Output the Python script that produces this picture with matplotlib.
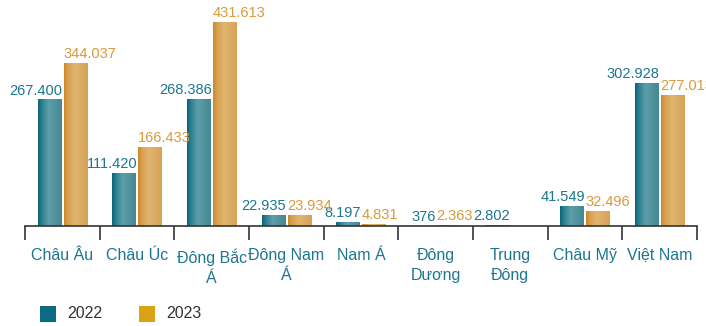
import numpy as np
import matplotlib.pyplot as plt
from matplotlib.colors import LinearSegmentedColormap
from matplotlib.patches import Rectangle

plt.rcParams['font.family'] = ['Liberation Sans', 'DejaVu Sans']

# Data
regions = ['Châu Âu', 'Châu Úc', 'Đông Bắc\nÁ', 'Đông Nam\nÁ', 'Nam Á',
           'Đông\nDương', 'Trung\nĐông', 'Châu Mỹ', 'Việt Nam']
val_2022 = [267.400, 111.420, 268.386, 22.935, 8.197, 0.376, 2.802, 41.549, 302.928]
val_2023 = [344.037, 166.433, 431.613, 23.934, 4.831, 2.363, None, 32.496, 277.013]
lab_2022 = ['267.400', '111.420', '268.386', '22.935', '8.197', '376', '2.802', '41.549', '302.928']
lab_2023 = ['344.037', '166.433', '431.613', '23.934', '4.831', '2.363', '', '32.496', '277.013']

teal_txt = '#1c7690'
gold_txt = '#d99a3c'
teal_cmap = LinearSegmentedColormap.from_list(
    'teal', [(0, '#0a6479'), (0.15, '#2a7f8f'), (0.45, '#5d9fa9'), (1, '#448895')])
gold_cmap = LinearSegmentedColormap.from_list(
    'gold', [(0, '#cb8a2a'), (0.15, '#d89f4f'), (0.45, '#dfb571'), (1, '#d7a255')])

fig = plt.figure(figsize=(7.06, 3.26), dpi=100)
ax = fig.add_axes([25 / 706, 100 / 326, 672 / 706, 221 / 326])

x = np.arange(len(regions))
width = 0.31
off = 0.175
grad = np.linspace(0, 1, 64).reshape(1, -1)


def shaded_bars(xs, vals, cmap):
    for xi, v in zip(xs, vals):
        if v is None:
            continue
        rect = Rectangle((xi - width / 2, 0), width, v, facecolor='none', edgecolor='none')
        ax.add_patch(rect)
        im = ax.imshow(grad, extent=[xi - width / 2, xi + width / 2, 0, v],
                       aspect='auto', cmap=cmap, zorder=2)
        im.set_clip_path(rect)


shaded_bars(x - off, val_2022, teal_cmap)
shaded_bars(x + off, val_2023, gold_cmap)

# value labels above the bars
for xi, v, s in zip(x, val_2022, lab_2022):
    ax.text(xi - off + width / 2 + 0.02, v + 4, s, ha='right', va='bottom',
            fontsize=10.5, color=teal_txt)
for xi, v, s in zip(x, val_2023, lab_2023):
    if v is None:
        continue
    ax.text(xi + off - width / 2 - 0.01, v + 4, s, ha='left', va='bottom',
            fontsize=10.5, color=gold_txt)

ax.set_xlim(-0.5, len(regions) - 0.5)
ax.set_ylim(0, 467)
ax.set_yticks([])
for side in ['top', 'right', 'left']:
    ax.spines[side].set_visible(False)
ax.spines['bottom'].set_color('#333333')
ax.spines['bottom'].set_linewidth(1.2)

# boundary ticks and category labels
ax.set_xticks(np.arange(len(regions) + 1) - 0.5)
ax.set_xticklabels([])
ax.tick_params(axis='x', which='major', direction='out', length=10, width=1.2, color='#333333')
ax.set_xticks(x, minor=True)
ax.set_xticklabels(regions, minor=True, fontsize=11.5, color=teal_txt, linespacing=1.4)
ax.tick_params(axis='x', which='minor', length=0, pad=16)

# legend
for lx, col, txt in [(40, '#0d6a84', '2022'), (139, '#dba213', '2023')]:
    fig.patches.append(Rectangle((lx / 706, 4 / 326), 16 / 706, 16 / 326,
                                 transform=fig.transFigure, facecolor=col, edgecolor='none'))
    fig.text((lx + 27) / 706, 12 / 326, txt, fontsize=11.5, color='#333333', va='center')

fig.savefig('out.png', dpi=100)
